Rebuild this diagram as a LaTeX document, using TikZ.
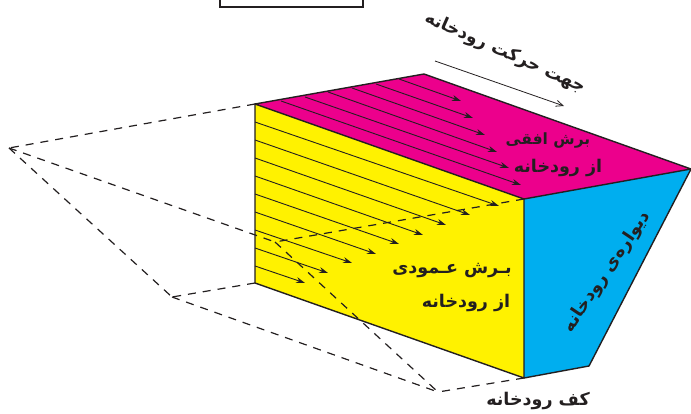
\documentclass[tikz,border=0pt]{standalone}
\usepackage{fontspec}
\usetikzlibrary{arrows.meta}
\TeXXeTstate=1
\newfontfamily\fa[Script=Arabic]{DejaVu Sans}[BoldFont={DejaVu Sans Bold}]
\definecolor{ink}{HTML}{231F20}
\definecolor{roof}{HTML}{EC008C}
\definecolor{front}{HTML}{FFF200}
\definecolor{wall}{HTML}{00AEEF}
\tikzset{
  edge/.style={draw=ink,line width=1.4pt,line join=round},
  flow/.style={draw=ink,line width=0.9pt,-{Stealth[length=9pt,width=6pt]}},
  hidden/.style={draw=ink,line width=1.2pt,dash pattern=on 8pt off 7pt},
  label/.style={text=ink,font=\fa\bfseries\fontsize{17.5}{20}\selectfont,inner sep=0pt,align=center},
}
\begin{document}
\begin{tikzpicture}[x=1pt,y=-1pt]
\clip (0,0) rectangle (691,414);
\useasboundingbox (0,0) rectangle (691,414);
\coordinate (A) at (255,104);
\coordinate (B) at (424,74);
\coordinate (C) at (691,169);
\coordinate (D) at (524,199);
\coordinate (E) at (524,378);
\coordinate (F) at (255,283);
\coordinate (G) at (589,366);
\coordinate (H) at (275,242);
\coordinate (V1) at (9,148);
\coordinate (V2) at (172,297);
\coordinate (V3) at (438,392);
\coordinate (boxa) at (220,-5);
\coordinate (boxb) at (363,7);
\coordinate (dira) at (435,61);
\coordinate (dirb) at (564,106);
\fill[front] (A)--(D)--(E)--(F)--cycle;
\fill[roof] (A)--(B)--(C)--(D)--cycle;
\fill[wall] (D)--(C)--(G)--(E)--cycle;
% flow lines on the roof
\foreach \sx/\sy/\ex/\ey in {399/79/461/101,376/84/473/118,352/88/485/135,328/92/497/152,305/97/509/168,281/101/521/185}
  \draw[flow] (\sx,\sy) -- (\ex,\ey);
% flow lines on the front
\foreach \sx/\sy/\ex/\ey in {255/122/499/206,255/140/470/215,255/158/446/225,255/176/423/235,255/194/399/244,255/212/376/254,255/230/352/263,255/248/328/273,255/266/305/283}
  \draw[flow] (\sx,\sy) -- (\ex,\ey);
% outline
\draw[edge] (A)--(B)--(C)--(D)--cycle;
\draw[edge] (A)--(F)--(E)--(D);
\draw[edge] (C)--(G)--(E);
% hidden lines
\draw[hidden] (A)--(V1);
\draw[hidden] (V1)--(H);
\draw[hidden] (V1)--(V2);
\draw[hidden] (F)--(V2);
\draw[hidden] (V2)--(V3);
\draw[hidden] (D)--(H);
\draw[hidden] (H)--(V3);
\draw[hidden] (E)--(V3);
% river direction
\draw[draw=ink,line width=0.8pt,-{Straight Barb[length=7pt,width=6pt]}] (dira)--(dirb);
% box at top
\draw[draw=ink,line width=1.1pt] (boxa) rectangle (boxb);
% labels
\node[label,rotate=-24] (dirl) at (505,53) {\beginR جهت حرکت رودخانه\endR};
\node[label,font=\fa\bfseries\fontsize{15.5}{18}\selectfont] (roofa) at (548,141) {\beginR برش افقی\endR};
\node[label] (roofb) at (558,168) {\beginR از رودخانه\endR};
\node[label] (fronta) at (452,271) {\beginR بـرش عـمودی\endR};
\node[label] (frontb) at (466,303) {\beginR از رودخانه\endR};
\node[label,rotate=56] (walll) at (607,272) {\beginR دیواره‌ی رودخانه\endR};
\node[label] (bed) at (538,401) {\beginR کف رودخانه\endR};
\end{tikzpicture}
\end{document}
